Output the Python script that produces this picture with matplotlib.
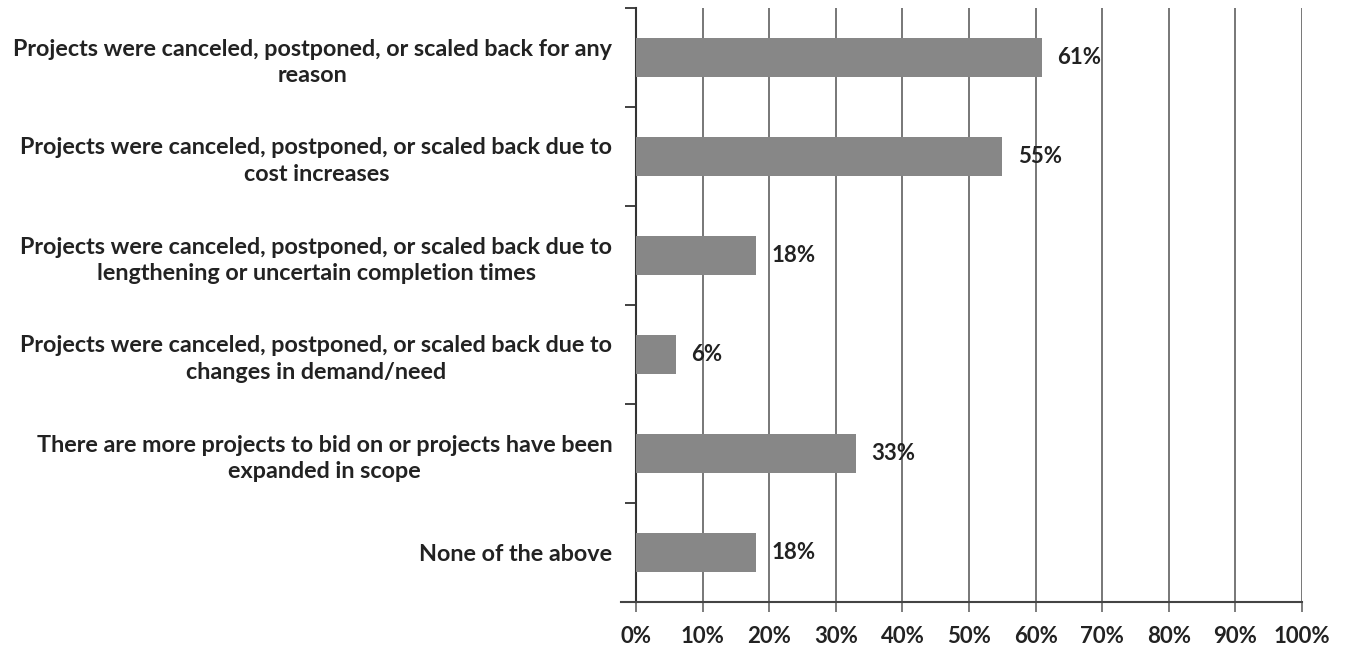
import matplotlib
matplotlib.use("Agg")
import matplotlib.pyplot as plt
from matplotlib.ticker import FixedLocator
from matplotlib.lines import Line2D

categories = [
    "Projects were canceled, postponed, or scaled back for any\nreason",
    "Projects were canceled, postponed, or scaled back due to\ncost increases",
    "Projects were canceled, postponed, or scaled back due to\nlengthening or uncertain completion times",
    "Projects were canceled, postponed, or scaled back due to\nchanges in demand/need",
    "There are more projects to bid on or projects have been\nexpanded in scope",
    "None of the above",
]
values = [61, 55, 18, 6, 33, 18]
xticks = [0, 10, 20, 30, 40, 50, 60, 70, 80, 90, 100]
xtick_labels = [f"{t}%" for t in xticks]

plt.rcParams['font.family'] = ['Lato', 'DejaVu Sans']

fig = plt.figure(figsize=(13.48, 6.48), dpi=100)
ax = fig.add_axes([636/1348, 1 - 602/648, 666/1348, 594/648])

n = len(categories)
ypos = list(range(n))
ax.barh(ypos, values, height=0.4, color="#878787", zorder=3)
ax.set_ylim(n - 0.5, -0.5)
ax.set_xlim(0, 100)

ax.set_xticks(xticks)
ax.set_xticklabels(xtick_labels, fontsize=16, fontweight='bold', color="#222222")
ax.set_yticks(ypos)
ax.set_yticklabels(categories, fontsize=16.8, fontweight='bold', color="#222222",
                   multialignment='center', linespacing=1.33)
ax.yaxis.set_minor_locator(FixedLocator([i - 0.5 for i in range(n + 1)]))
ax.tick_params(axis='y', which='major', length=0, pad=17)
ax.tick_params(axis='y', which='minor', length=8, width=1.3, color="#333333", direction='out')
ax.tick_params(axis='x', which='major', length=7, width=1.2, color="#666666", pad=10)

ax.grid(axis='x', color="#777777", linewidth=1.4, zorder=1)
for s in ['top', 'right']:
    ax.spines[s].set_visible(False)
ax.spines['left'].set_color("#333333")
ax.spines['left'].set_linewidth(1.5)
ax.spines['bottom'].set_color("#444444")
ax.spines['bottom'].set_linewidth(1.5)
# small extension of the bottom axis line to the left of zero
ax.add_line(Line2D([-2.2, 0], [n - 0.5, n - 0.5], color="#444444", linewidth=1.5,
                   clip_on=False, zorder=5))

for y, v in zip(ypos, values):
    ax.annotate(f"{v}%", xy=(v, y), xytext=(11, 0), textcoords='offset points',
                va='center', ha='left', fontsize=16, fontweight='bold',
                color="#222222", zorder=4)

fig.savefig("out.png", dpi=100, facecolor='white')
